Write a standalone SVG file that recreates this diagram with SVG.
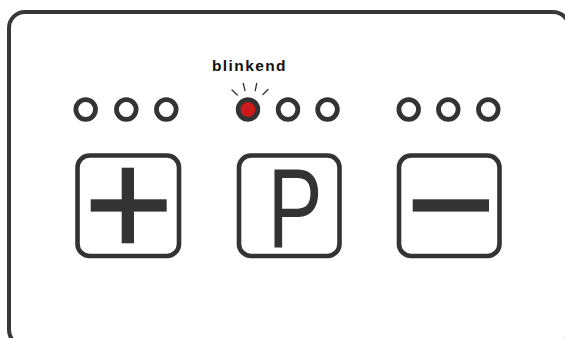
<svg xmlns="http://www.w3.org/2000/svg" width="565" height="338" viewBox="0 0 565 338">
<style>
.frame{fill:none;stroke:#383838;stroke-width:4}
.led{fill:#fff;stroke:#333;stroke-width:4.8}
.btn{fill:#fff;stroke:#333;stroke-width:4.6}
.sym{fill:#333}
.ray{stroke:#333;stroke-width:1.3;stroke-linecap:round}
.lbl{font-family:"Liberation Sans",Arial,sans-serif;font-weight:bold;font-size:15.5px;letter-spacing:1.4px;fill:#111}
.p{font-family:"Liberation Sans",Arial,sans-serif;font-size:114px;fill:#333}
</style>
<rect class="frame" x="9" y="12" width="560" height="334" rx="16"/>
<g id="leds-left">
<circle class="led" cx="85.7" cy="109.5" r="9.8"/>
<circle class="led" cx="126.3" cy="109.5" r="9.8"/>
<circle class="led" cx="166.3" cy="109.5" r="9.8"/>
</g>
<g id="leds-middle">
<circle cx="248" cy="109.5" r="9.8" fill="#cc1a1a" stroke="#333" stroke-width="4.8"/>
<circle class="led" cx="288" cy="109.5" r="9.8"/>
<circle class="led" cx="327.5" cy="109.5" r="9.8"/>
<line class="ray" x1="232" y1="90" x2="237.3" y2="95"/>
<line class="ray" x1="243.3" y1="83.5" x2="245" y2="90.7"/>
<line class="ray" x1="256.7" y1="83.5" x2="255.2" y2="90.7"/>
<line class="ray" x1="268" y1="89.5" x2="263" y2="94.5"/>
</g>
<g id="leds-right">
<circle class="led" cx="408.7" cy="109.5" r="9.8"/>
<circle class="led" cx="448.3" cy="109.5" r="9.8"/>
<circle class="led" cx="488.3" cy="109.5" r="9.8"/>
</g>
<text class="lbl" x="212" y="70.5">blinkend</text>
<g id="btn-plus">
<rect class="btn" x="77.5" y="155.5" width="101.5" height="100.5" rx="12"/>
<rect class="sym" x="90.7" y="199.3" width="76" height="12.3"/>
<rect class="sym" x="121.7" y="167.7" width="12.3" height="75.6"/>
</g>
<g id="btn-p">
<rect class="btn" x="239" y="155.5" width="100.5" height="100.5" rx="12"/>
<text class="p" transform="translate(295,246.7) scale(0.72,1)" x="0" y="0" text-anchor="middle">P</text>
</g>
<g id="btn-minus">
<rect class="btn" x="399" y="155.5" width="100.5" height="100.5" rx="12"/>
<rect class="sym" x="412.7" y="199.3" width="76.3" height="12.3"/>
</g>
</svg>
